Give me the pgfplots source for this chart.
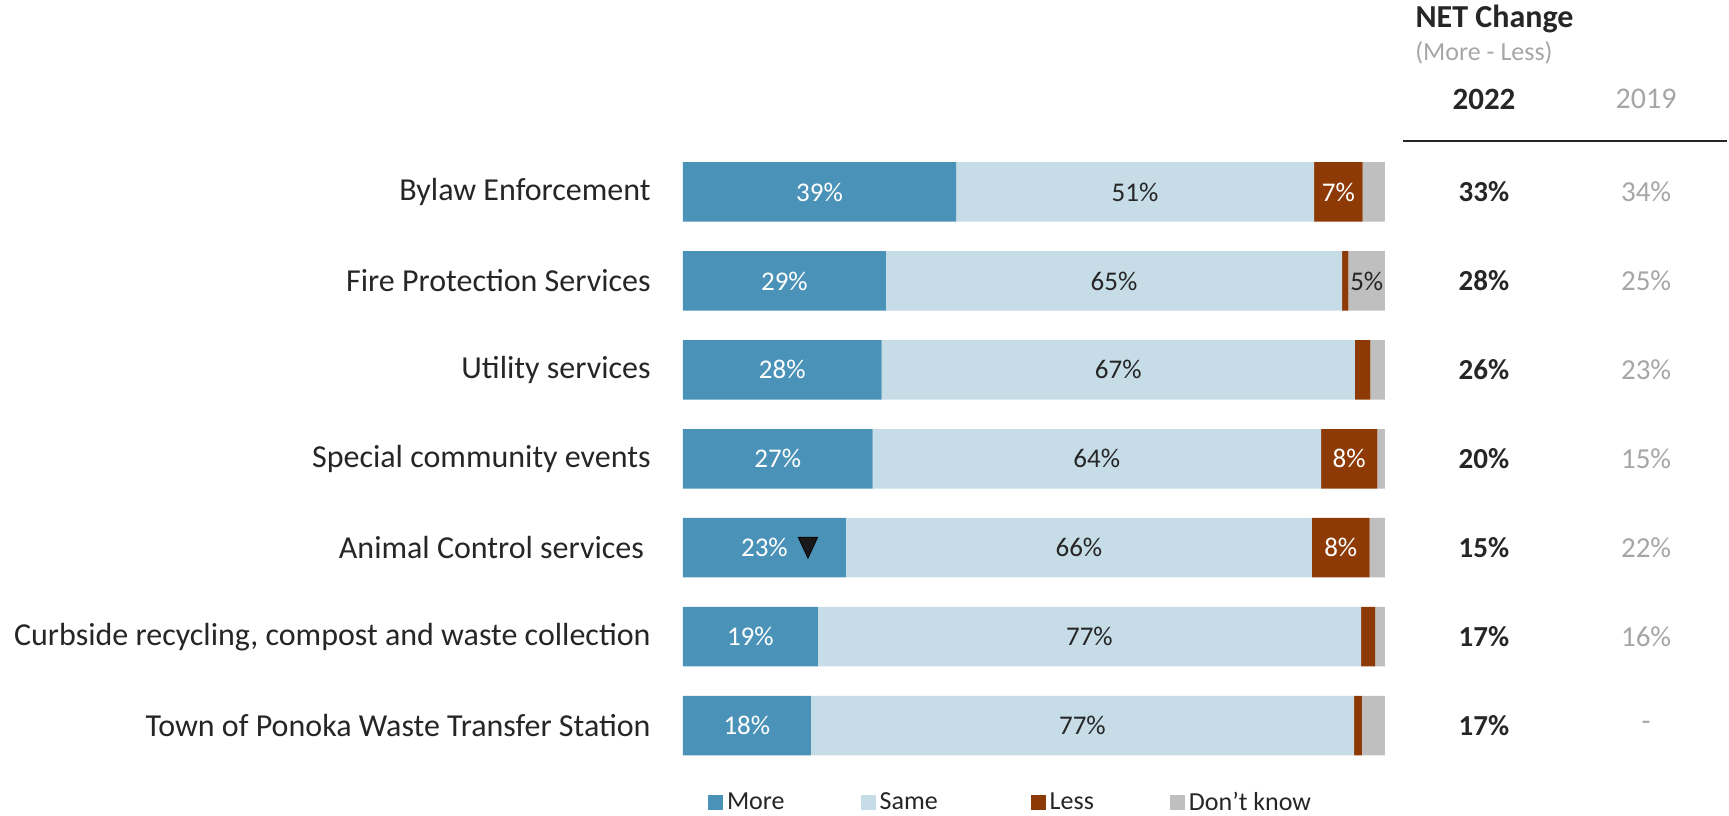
\documentclass[border=0pt]{standalone}
\usepackage{pgfplots}
\usepackage{pgfplotstable}
\pgfplotsset{compat=1.18}
\usepackage{fontspec}
\setmainfont{Carlito}

\definecolor{cmore}{HTML}{4A92B8}
\definecolor{csame}{HTML}{C6DDE7}
\definecolor{cless}{HTML}{8E3A06}
\definecolor{cdk}{HTML}{BFBFBF}
\definecolor{ctext}{HTML}{262626}
\definecolor{cgray}{HTML}{A6A6A6}

% shares per row (bars are read off the picture, labels rounded)
\pgfplotstableread{
row more same less dk
0 38.9 51.0 6.9 3.2
1 28.9 65.0 0.9 5.2
2 28.3 67.4 2.2 2.1
3 27.0 63.9 8.0 1.1
4 23.2 66.4 8.2 2.2
5 19.2 77.4 2.0 1.4
6 18.2 77.4 1.1 3.3
}\bars

% NET change (More - Less)
\pgfplotstableread{
row n22 n19
0 33\% 34\%
1 28\% 25\%
2 26\% 23\%
3 20\% 15\%
4 15\% 22\%
5 17\% 16\%
6 17\% -
}\net

\pgfplotsset{
  base/.style={width=351pt, height=311.3pt, scale only axis,
    xmin=0, xmax=100, ymin=-0.5, ymax=6.5, y dir=reverse, clip=false},
  seglabel/.style={
    nodes near coords={\pgfmathtruncatemacro\ok{\v>=5}\ifnum\ok=1 \pgfmathprintnumber[fixed,precision=0,assume math mode=true]{\v}\%\fi},
    every node near coord/.append style={anchor=center, inner sep=0pt,
      font=\fontsize{13.5}{16}\selectfont, text=#1}},
}

\begin{document}
\begin{tikzpicture}
\begin{axis}[base, name=main,
  xbar stacked, bar width=29.75pt,
  axis line style={draw=none}, tick style={draw=none}, xtick=\empty,
  ytick={0,...,6},
  yticklabels={Bylaw Enforcement, Fire Protection Services, Utility services,
    Special community events, Animal Control services\kern3.3pt\relax,
    {Curbside recycling, compost and waste collection},
    Town of Ponoka Waste Transfer Station},
  yticklabel style={font=\fontsize{16}{19}\selectfont, text=ctext,
    inner sep=0pt, xshift=-16pt},
  legend image code/.code={\fill[#1] (0pt,-3.75pt) rectangle (7.5pt,3.75pt);},
  legend columns=4,
  legend style={draw=none, at={(0.468,-0.0522)}, anchor=center,
    font=\fontsize{13}{15}\selectfont, text=ctext,
    /tikz/every even column/.append style={column sep=36pt}},
]
  \addplot[fill=cmore, draw=none, visualization depends on={\thisrow{more} \as \v},
    seglabel=white] table[x=more, y=row] {\bars};
  \addplot[fill=csame, draw=none, visualization depends on={\thisrow{same} \as \v},
    seglabel=ctext] table[x=same, y=row] {\bars};
  \addplot[fill=cless, draw=none, visualization depends on={\thisrow{less} \as \v},
    seglabel=white] table[x=less, y=row] {\bars};
  \addplot[fill=cdk, draw=none, visualization depends on={\thisrow{dk} \as \v},
    seglabel=ctext] table[x=dk, y=row] {\bars};
  \legend{More, Same\kern8.5pt\relax, Less, Don't know}
\end{axis}

\begin{axis}[base, hide axis]
  % significant decrease marker
  \addplot[only marks, mark=triangle*, mark size=7pt,
    mark options={rotate=180, xscale=0.8, fill=black!90, draw=none}]
    coordinates {(17.8,3.96)};
  % NET columns
  \addplot[only marks, mark=o, mark size=0pt, mark options={draw=none},
    point meta=explicit symbolic, nodes near coords,
    every node near coord/.append style={anchor=center,
      font=\bfseries\fontsize{14.5}{17}\selectfont, text=ctext}]
    table[x expr=114.1, y=row, meta=n22] {\net};
  \addplot[only marks, mark=o, mark size=0pt, mark options={draw=none},
    point meta=explicit symbolic, nodes near coords,
    every node near coord/.append style={anchor=center,
      font=\fontsize{14.5}{17}\selectfont, text=cgray}]
    table[x expr=137.2, y=row, meta=n19] {\net};
  \node[font=\bfseries\fontsize{16}{19}\selectfont, text=ctext] at (axis cs:115.6,-1.95) {NET Change};
  \node[font=\fontsize{13}{15}\selectfont, text=cgray] at (axis cs:114.1,-1.563) {(More - Less)};
  \node[font=\bfseries\fontsize{15.5}{18}\selectfont, text=ctext] at (axis cs:114.1,-1.045) {2022};
  \node[font=\fontsize{15}{18}\selectfont, text=cgray] at (axis cs:137.2,-1.045) {2019};
  \draw[line width=1.1pt, ctext] (axis cs:102.6,-0.573) -- (axis cs:148.7,-0.573);
\end{axis}

\pgfresetboundingbox
\path[use as bounding box] ([xshift=-341.5pt,yshift=-22.75pt]main.south west)
  rectangle ([xshift=172pt,yshift=73.75pt]main.north east);
\end{tikzpicture}
\end{document}
